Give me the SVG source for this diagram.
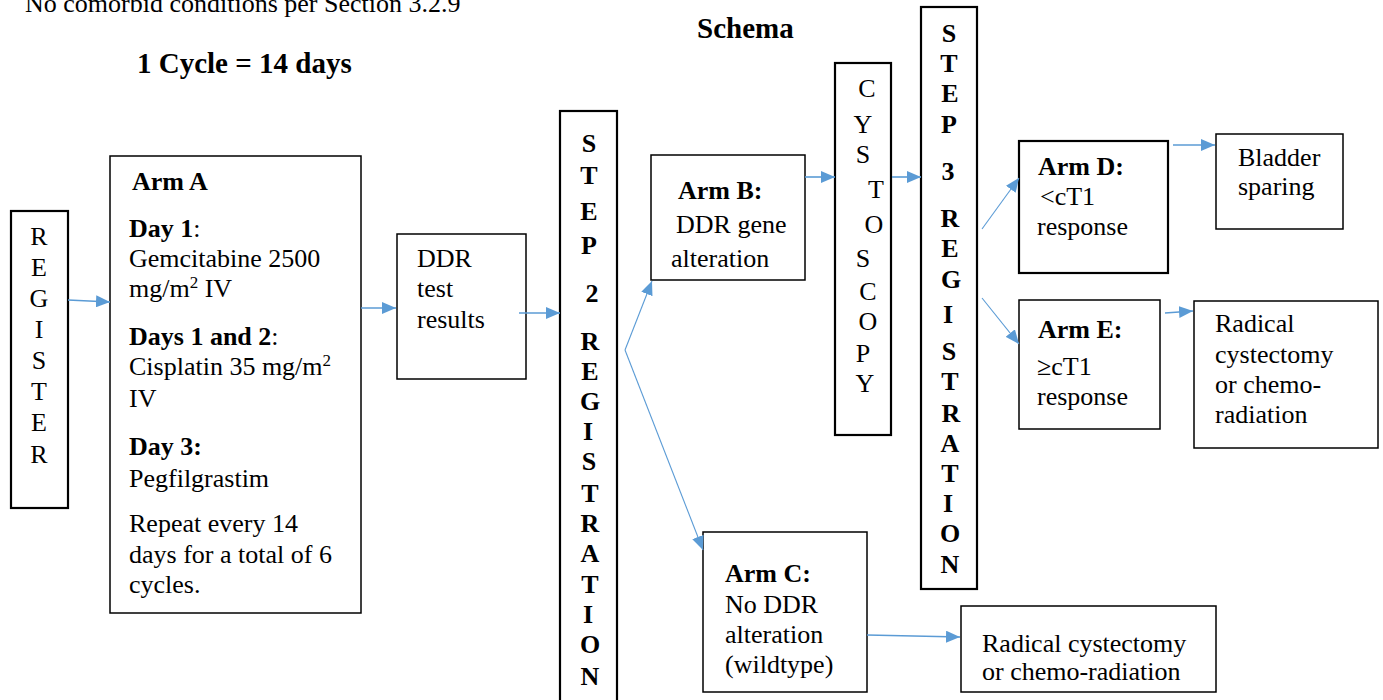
<svg xmlns="http://www.w3.org/2000/svg" width="1383" height="700" viewBox="0 0 1383 700">
<defs>
<style>
text{font-family:"Liberation Serif","Times New Roman",serif;font-size:26px;fill:#000}
.b{font-weight:bold}
.h{font-weight:bold;font-size:29px}
.c{text-anchor:middle}
.box{fill:#fff;stroke:#000;stroke-width:1.5}
.tb{fill:#fff;stroke:#000;stroke-width:2.2}
.ln{fill:none;stroke:#5B9BD5;stroke-width:1.6;marker-end:url(#ah)}
.tn{fill:none;stroke:#5B9BD5;stroke-width:1.1;marker-end:url(#ah)}
</style>
<marker id="ah" markerUnits="userSpaceOnUse" markerWidth="14" markerHeight="12" viewBox="0 0 14 12" refX="14" refY="6" orient="auto">
<path d="M0,0 L14,6 L0,12 z" fill="#5B9BD5"/>
</marker>
</defs>
<rect width="1383" height="700" fill="#fff"/>
<text x="25" y="12">No comorbid conditions per Section 3.2.9</text>
<text class="h" x="697" y="38">Schema</text>
<text class="h" x="137" y="73">1 Cycle = 14 days</text>

<g id="register">
<rect class="tb" x="11" y="211" width="57" height="297"/>
<text class="c" x="39" y="245">R</text>
<text class="c" x="39" y="276">E</text>
<text class="c" x="39" y="307">G</text>
<text class="c" x="39" y="338">I</text>
<text class="c" x="39" y="369">S</text>
<text class="c" x="39" y="400">T</text>
<text class="c" x="39" y="431">E</text>
<text class="c" x="39" y="463">R</text>
</g>

<g id="armA">
<rect class="box" x="110" y="156" width="251" height="457"/>
<text class="b" x="132" y="190">Arm A</text>
<text x="129" y="237"><tspan class="b">Day 1</tspan>:</text>
<text x="129" y="267">Gemcitabine 2500</text>
<text x="129" y="297">mg/m<tspan font-size="17" dy="-9">2</tspan><tspan dy="9"> IV</tspan></text>
<text x="129" y="345"><tspan class="b">Days 1 and 2</tspan>:</text>
<text x="129" y="375">Cisplatin 35 mg/m<tspan font-size="17" dy="-9">2</tspan></text>
<text x="129" y="407">IV</text>
<text class="b" x="129" y="455">Day 3:</text>
<text x="129" y="487">Pegfilgrastim</text>
<text x="129" y="532">Repeat every 14</text>
<text x="129" y="563">days for a total of 6</text>
<text x="129" y="593">cycles.</text>
</g>

<g id="ddr">
<rect class="box" x="397" y="234" width="129" height="145"/>
<text x="417" y="267">DDR</text>
<text x="417" y="297">test</text>
<text x="417" y="328">results</text>
</g>

<g id="step2">
<rect class="tb" x="560" y="111" width="57" height="600"/>
<text class="b c" x="589" y="152">S</text>
<text class="b c" x="589" y="184">T</text>
<text class="b c" x="589" y="220">E</text>
<text class="b c" x="589" y="254">P</text>
<text class="b c" x="592" y="302">2</text>
<text class="b c" x="590" y="350">R</text>
<text class="b c" x="590" y="380">E</text>
<text class="b c" x="590" y="410">G</text>
<text class="b c" x="588" y="440">I</text>
<text class="b c" x="589" y="470">S</text>
<text class="b c" x="590" y="502">T</text>
<text class="b c" x="590" y="532">R</text>
<text class="b c" x="590" y="562">A</text>
<text class="b c" x="590" y="593">T</text>
<text class="b c" x="588" y="623">I</text>
<text class="b c" x="590" y="653">O</text>
<text class="b c" x="590" y="685">N</text>
</g>

<g id="armB">
<rect class="box" x="651" y="155" width="154" height="125"/>
<text class="b" x="678" y="199">Arm B:</text>
<text x="676" y="233">DDR gene</text>
<text x="671" y="267">alteration</text>
</g>

<g id="cystoscopy">
<rect class="tb" x="835" y="63" width="56" height="372"/>
<text class="c" x="867" y="97">C</text>
<text class="c" x="863" y="133">Y</text>
<text class="c" x="863" y="163">S</text>
<text class="c" x="876" y="198">T</text>
<text class="c" x="874" y="233">O</text>
<text class="c" x="863" y="267">S</text>
<text class="c" x="868" y="300">C</text>
<text class="c" x="868" y="330">O</text>
<text class="c" x="863" y="362">P</text>
<text class="c" x="865" y="392">Y</text>
</g>

<g id="step3">
<rect class="tb" x="921" y="7" width="56" height="582"/>
<text class="b c" x="949" y="42">S</text>
<text class="b c" x="949" y="72">T</text>
<text class="b c" x="950" y="102">E</text>
<text class="b c" x="949" y="133">P</text>
<text class="b c" x="948" y="180">3</text>
<text class="b c" x="950" y="227">R</text>
<text class="b c" x="950" y="257">E</text>
<text class="b c" x="951" y="288">G</text>
<text class="b c" x="948" y="323">I</text>
<text class="b c" x="949" y="360">S</text>
<text class="b c" x="950" y="390">T</text>
<text class="b c" x="951" y="422">R</text>
<text class="b c" x="950" y="452">A</text>
<text class="b c" x="950" y="482">T</text>
<text class="b c" x="948" y="512">I</text>
<text class="b c" x="950" y="542">O</text>
<text class="b c" x="950" y="573">N</text>
</g>

<g id="armD">
<rect class="tb" x="1019" y="141" width="149" height="132" stroke-width="2.6"/>
<text class="b" x="1038" y="175">Arm D:</text>
<text x="1040" y="205">&lt;cT1</text>
<text x="1037" y="235">response</text>
</g>

<g id="bladder">
<rect class="box" x="1216" y="134" width="127" height="95"/>
<text x="1238" y="166">Bladder</text>
<text x="1238" y="195">sparing</text>
</g>

<g id="armE">
<rect class="box" x="1019" y="300" width="141" height="129"/>
<text class="b" x="1038" y="338">Arm E:</text>
<text x="1037" y="375">≥cT1</text>
<text x="1037" y="405">response</text>
</g>

<g id="radical1">
<rect class="box" x="1194" y="301" width="184" height="147"/>
<text x="1215" y="332">Radical</text>
<text x="1215" y="363">cystectomy</text>
<text x="1215" y="393">or chemo-</text>
<text x="1215" y="423">radiation</text>
</g>

<g id="armC">
<rect class="box" x="703" y="532" width="164" height="160"/>
<text class="b" x="725" y="582">Arm C:</text>
<text x="725" y="613">No DDR</text>
<text x="725" y="643">alteration</text>
<text x="725" y="673">(wildtype)</text>
</g>

<g id="radical2">
<rect class="box" x="961" y="606" width="255" height="86"/>
<text x="982" y="652">Radical cystectomy</text>
<text x="982" y="680">or chemo-radiation</text>
</g>

<g id="connectors">
<path class="ln" d="M68,300 L110,302"/>
<path class="ln" d="M361,308 L396,308"/>
<path class="ln" d="M519,313 L560,313"/>
<path class="tn" d="M625,350 L652,281"/>
<path class="tn" d="M625,350 L703,550"/>
<path class="ln" d="M805,177 L835,177"/>
<path class="ln" d="M892,177 L921,177"/>
<path class="tn" d="M982,229 L1019,178"/>
<path class="tn" d="M982,298 L1019,344"/>
<path class="ln" d="M1173,145 L1215,145"/>
<path class="ln" d="M1165,313 L1193,311"/>
<path class="ln" d="M867,635 L960,637"/>
</g>
</svg>
